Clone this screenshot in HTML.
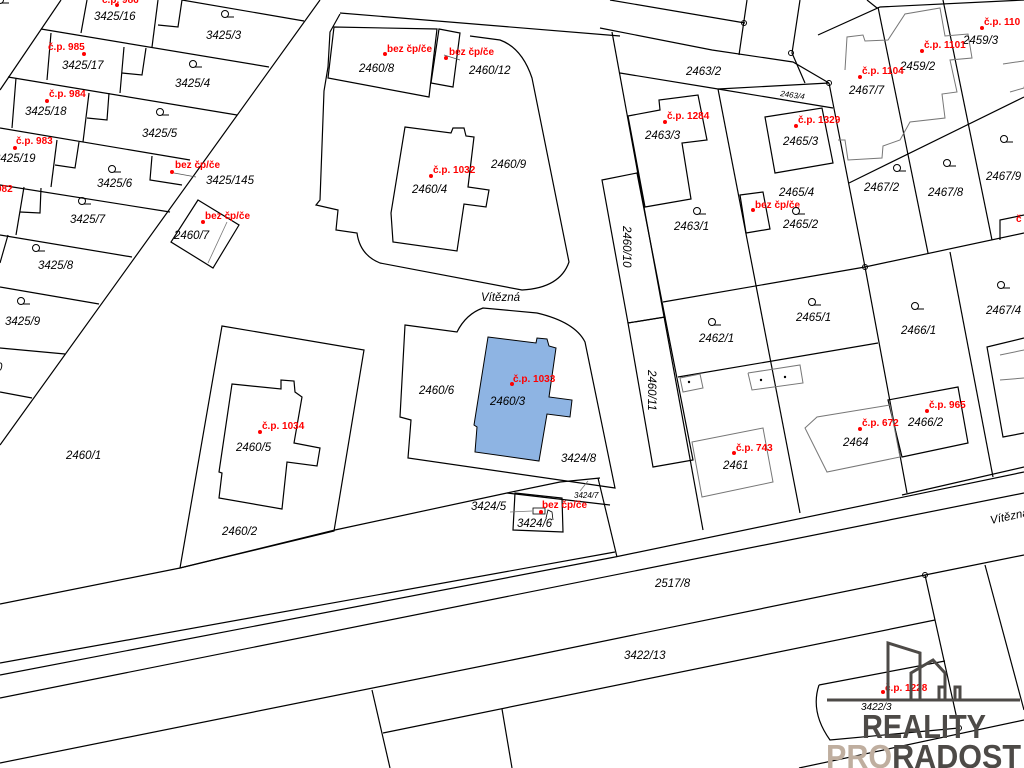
<!DOCTYPE html>
<html><head><meta charset="utf-8"><style>
html,body{margin:0;padding:0;background:#fff;}
svg{display:block;}
.l{fill:none;stroke:#000;stroke-width:1.2;}
.g{fill:none;stroke:#777;stroke-width:1;}
.t{font-family:"Liberation Sans",sans-serif;font-size:11.5px;font-style:italic;fill:#000;}
.s{font-family:"Liberation Sans",sans-serif;font-size:8px;font-style:italic;fill:#000;}
.r{font-family:"Liberation Sans",sans-serif;font-size:10px;font-weight:bold;fill:#f00;}
.d{fill:#f00;}
</style></head><body>
<svg width="1024" height="768" viewBox="0 0 1024 768" xmlns="http://www.w3.org/2000/svg">
<rect width="1024" height="768" fill="#fff"/>
<!-- left block -->
<g class="l">
<polyline points="320,0 0,445"/>
<polyline points="61,0 0,90"/>
<polyline points="182,0 304,21"/>
<polyline points="41,29 269,67"/>
<polyline points="8,77 237,115"/>
<polyline points="0,128 190,160"/>
<polyline points="0,185 170,212"/>
<polyline points="0,235 132,257"/>
<polyline points="0,287 99,304"/>
<polyline points="0,348 65,354"/>
<polyline points="0,392 32,398"/>
<polyline points="87,0 81,33"/><polyline points="158,0 152,47"/>
<polyline points="51,33 47,80"/><polyline points="124,47 120,93"/>
<polyline points="16,78 12,128"/><polyline points="89,93 83,142"/>
<polyline points="57,140 51,187"/><polyline points="24,187 16,235"/>
<polyline points="8,235 0,263"/>
<polyline points="182,0 178,27 158,25"/>
<polyline points="146,48 142,75 122,73"/>
<polyline points="109,93 107,120 87,118"/>
<polyline points="79,142 75,168 55,165"/>
<polyline points="41,188 40,213 20,212"/>
<polyline points="152,156 150,180 182,185"/>
<polygon points="198,200 239,225 213,268 171,242"/>
</g>
<line x1="227" y1="222" x2="208" y2="263" stroke="#777" stroke-width="0.8"/>
<!-- 2460/9 area -->
<g class="l">
<polyline points="340,13 620,36"/>
<path d="M340,14 L330,32 L328,67 L324,91 L320,200 L316,205 L338,210 L336,230 L357,233 Q360,255 380,263 L522,290 Q560,288 569,262 L532,78 Q522,48 500,40 L470,36"/>
<polygon points="334,27 437,29 429,97 328,78"/>
<polygon points="439,29 460,33 453,87 431,83"/>
<polygon points="405,127 451,133 453,128 464,128 466,136 474,137 468,187 489,190 486,207 464,204 457,251 393,242 391,213 405,127"/>
</g>
<!-- upper right -->
<g class="l">
<polyline points="610,0 745,23"/>
<polyline points="747,0 739,55"/>
<polyline points="800,0 792,53 805,83"/>
<polyline points="867,0 877,8"/>
<polyline points="600,28 712,50 793,62 829,83"/>
<polyline points="620,73 718,89 833,108"/>
<polyline points="718,89 829,83"/>
<polyline points="818,35 880,7 1024,0"/>
<polyline points="612,32 703,530"/>
<polygon points="602,180 637,173 665,317 628,323"/>
<polygon points="628,323 665,317 693,460 653,467"/>
<polyline points="718,89 800,513"/>
<polyline points="829,83 865,267 907,493"/>
<polyline points="878,7 928,253"/>
<polyline points="943,0 992,240"/>
<polyline points="849,183 1024,97"/>
<polyline points="663,302 865,267 1024,233"/>
<polyline points="678,377 878,343"/>
<polyline points="950,252 993,477"/>
<polygon points="888,400 958,387 968,443 902,457"/>
<polyline points="902,495 1024,467"/>
<polygon points="765,117 822,108 833,163 775,173"/>
<polygon points="628,116 660,110 659,100 698,95 707,140 682,143 691,199 645,207"/>
<polygon points="740,195 763,192 770,229 746,233"/>
<polyline points="1000,240 1000,220 1024,215"/>
<polyline points="1024,338 987,347 1003,437 1024,433"/>
</g>
<g class="g">
<polygon points="692,442 763,428 773,482 702,497"/>
<polygon points="805,428 817,417 890,405 900,457 827,472"/>
<polyline points="845,70 847,37 863,35 865,41 888,40 905,14 940,8 945,36 968,34 972,58 950,60 957,92 942,94 945,118 910,122 900,140 883,146 882,158 848,160 845,140 838,140"/>
<polyline points="1003,64 1030,60 1024,88 1010,92"/>
<polyline points="680,378 700,374 703,388 683,392 680,378"/>
<polyline points="748,373 800,365 803,383 752,390 748,373"/>
<polyline points="1000,380 1024,378"/>
<polyline points="1000,355 1024,350"/>
</g>
<circle cx="744" cy="23" r="2.5" fill="none" stroke="#000"/>
<circle cx="791" cy="53" r="2.5" fill="none" stroke="#000"/>
<circle cx="829" cy="83" r="2.5" fill="none" stroke="#000"/>
<circle cx="865" cy="267" r="2.5" fill="none" stroke="#000"/>
<circle cx="689" cy="382" r="1.2"/><circle cx="761" cy="380" r="1.2"/><circle cx="785" cy="377" r="1.2"/>
<!-- center lower -->
<g class="l">
<path d="M405,325 L457,332 Q466,314 483,308 L537,313 Q575,322 585,342 L615,488 L408,458 L411,420 L400,417 Z"/>
<polygon points="222,326 364,350 334,531 180,568"/>
<polygon points="232,384 281,389 281,380 294,381 295,392 302,397 294,443 320,448 317,466 287,462 282,509 219,498 222,473 219,472" fill="#fff"/>
<polygon points="515,493 562,498 563,532 513,530"/>
<polyline points="0,604 180,568 335,530 507,493 560,482 600,478"/>
<polyline points="507,493 610,505"/>
<polyline points="598,478 617,557"/>
</g>
<polygon points="488,337 536,343 537,338 547,339 549,346 556,348 549,397 572,400 570,417 547,414 539,461 475,452 477,427 474,425" fill="#8eb4e3" stroke="#000" stroke-width="1"/>
<rect x="533" y="508" width="12" height="6" fill="none" stroke="#000" stroke-width="0.8"/>
<polyline points="546,518 548,510 552,512 553,520" fill="none" stroke="#000" stroke-width="0.8"/>
<line x1="510" y1="512" x2="532" y2="511" stroke="#777" stroke-width="0.8"/>
<line x1="588" y1="481" x2="580" y2="491" stroke="#777" stroke-width="0.8"/>
<line x1="444" y1="55" x2="460" y2="60" stroke="#555" stroke-width="0.8"/>
<line x1="174" y1="173" x2="196" y2="177" stroke="#555" stroke-width="0.8"/>
<!-- roads -->
<g class="l">
<polyline points="0,663 615,552"/>
<polyline points="0,675 615,557 1024,472"/>
<polyline points="0,698 1024,493"/>
<polyline points="0,763 512,660 925,575 1024,555"/>
<polyline points="383,733 935,620"/>
<polyline points="372,690 390,768"/>
<polyline points="502,709 512,768"/>
<polyline points="925,575 959,728"/>
<path d="M819,685 L945,661 M819,685 Q810,712 830,740 L959,728"/>
<polyline points="799,768 1024,720"/>
<polyline points="985,565 1024,710"/>
</g>
<circle cx="925" cy="575" r="2.5" fill="none" stroke="#000"/>
<circle cx="959" cy="728" r="2.5" fill="none" stroke="#000"/>
<!-- labels -->
<g class="t">
<text x="94" y="20">3425/16</text><text x="206" y="39">3425/3</text>
<text x="62" y="69">3425/17</text><text x="175" y="87">3425/4</text>
<text x="25" y="115">3425/18</text><text x="142" y="137">3425/5</text>
<text x="-6" y="162">3425/19</text><text x="97" y="187">3425/6</text><text x="206" y="184">3425/145</text>
<text x="70" y="223">3425/7</text><text x="174" y="239">2460/7</text>
<text x="38" y="269">3425/8</text><text x="5" y="325">3425/9</text><text x="-4" y="371">0</text>
<text x="359" y="72">2460/8</text><text x="469" y="74">2460/12</text>
<text x="491" y="168">2460/9</text><text x="412" y="193">2460/4</text>
<text x="481" y="301">Vítězná</text>
<text x="419" y="394">2460/6</text><text x="490" y="405">2460/3</text>
<text x="66" y="459">2460/1</text><text x="236" y="451">2460/5</text>
<text x="561" y="462">3424/8</text><text x="471" y="510">3424/5</text><text x="517" y="527">3424/6</text>
<text x="222" y="535">2460/2</text>
<text x="686" y="75">2463/2</text><text x="645" y="139">2463/3</text><text x="783" y="145">2465/3</text>
<text x="849" y="94">2467/7</text><text x="900" y="70">2459/2</text><text x="963" y="44">2459/3</text>
<text x="779" y="196">2465/4</text><text x="783" y="228">2465/2</text>
<text x="674" y="230">2463/1</text><text x="864" y="191">2467/2</text><text x="928" y="196">2467/8</text>
<text x="986" y="180">2467/9</text><text x="796" y="321">2465/1</text><text x="699" y="342">2462/1</text>
<text x="901" y="334">2466/1</text><text x="986" y="314">2467/4</text>
<text x="723" y="469">2461</text><text x="843" y="446">2464</text><text x="908" y="426">2466/2</text>
<text x="655" y="587">2517/8</text><text x="991" y="524" transform="rotate(-12 991 524)">Vítězná</text>
<text x="624" y="659">3422/13</text><text x="861" y="710" style="font-size:10px">3422/3</text>
</g>
<text class="t" transform="translate(623,226) rotate(90)">2460/10</text>
<text class="t" transform="translate(648,370) rotate(90)">2460/11</text>
<text class="s" x="780" y="96" transform="rotate(8 780 96)">2463/4</text>
<text class="s" x="574" y="498">3424/7</text>
<g class="r">
<text x="102" y="3">č.p. 986</text><text x="48" y="50">č.p. 985</text>
<text x="49" y="97">č.p. 984</text><text x="16" y="144">č.p. 983</text><text x="-4" y="192">982</text>
<text x="175" y="168">bez čp/če</text><text x="205" y="219">bez čp/če</text>
<text x="387" y="52">bez čp/če</text><text x="449" y="55">bez čp/če</text>
<text x="433" y="173">č.p. 1032</text><text x="513" y="382">č.p. 1033</text>
<text x="262" y="429">č.p. 1034</text><text x="542" y="508">bez čp/če</text>
<text x="667" y="119">č.p. 1284</text><text x="798" y="123">č.p. 1329</text>
<text x="862" y="74">č.p. 1104</text><text x="924" y="48">č.p. 1101</text><text x="984" y="25">č.p. 110</text>
<text x="755" y="208">bez čp/če</text><text x="736" y="451">č.p. 743</text>
<text x="862" y="426">č.p. 672</text><text x="929" y="408">č.p. 965</text>
<text x="885" y="691">č.p. 1228</text><text x="1016" y="222">č</text>
</g>
<g class="d">
<circle cx="117" cy="5" r="2"/><circle cx="84" cy="54" r="2"/><circle cx="47" cy="101" r="2"/>
<circle cx="15" cy="148" r="2"/><circle cx="172" cy="172" r="2"/><circle cx="203" cy="222" r="2"/>
<circle cx="385" cy="54" r="2"/><circle cx="446" cy="58" r="2"/><circle cx="431" cy="176" r="2"/>
<circle cx="512" cy="384" r="2"/><circle cx="260" cy="432" r="2"/><circle cx="541" cy="512" r="2"/>
<circle cx="665" cy="122" r="2"/><circle cx="796" cy="126" r="2"/><circle cx="860" cy="77" r="2"/>
<circle cx="922" cy="51" r="2"/><circle cx="982" cy="28" r="2"/><circle cx="753" cy="210" r="2"/>
<circle cx="734" cy="453" r="2"/><circle cx="860" cy="429" r="2"/><circle cx="927" cy="411" r="2"/>
<circle cx="883" cy="692" r="2"/>
</g>
<!-- parcel symbols -->
<g fill="none" stroke="#000" stroke-width="1">
<g id="q"><circle cx="0" cy="0" r="3.5"/><line x1="2" y1="3" x2="9" y2="3"/></g>
</g>
<g fill="none" stroke="#000" stroke-width="1">
<circle cx="225" cy="14" r="3.5"/><line x1="227" y1="17" x2="234" y2="17"/>
<circle cx="193" cy="64" r="3.5"/><line x1="195" y1="67" x2="202" y2="67"/>
<circle cx="160" cy="112" r="3.5"/><line x1="162" y1="115" x2="169" y2="115"/>
<circle cx="112" cy="169" r="3.5"/><line x1="114" y1="172" x2="121" y2="172"/>
<circle cx="82" cy="201" r="3.5"/><line x1="84" y1="204" x2="91" y2="204"/>
<circle cx="36" cy="248" r="3.5"/><line x1="38" y1="251" x2="45" y2="251"/>
<circle cx="21" cy="301" r="3.5"/><line x1="23" y1="304" x2="30" y2="304"/>
<circle cx="697" cy="211" r="3.5"/><line x1="699" y1="214" x2="706" y2="214"/>
<circle cx="796" cy="211" r="3.5"/><line x1="798" y1="214" x2="805" y2="214"/>
<circle cx="897" cy="168" r="3.5"/><line x1="899" y1="171" x2="906" y2="171"/>
<circle cx="947" cy="163" r="3.5"/><line x1="949" y1="166" x2="956" y2="166"/>
<circle cx="1004" cy="139" r="3.5"/><line x1="1006" y1="142" x2="1013" y2="142"/>
<circle cx="812" cy="302" r="3.5"/><line x1="814" y1="305" x2="821" y2="305"/>
<circle cx="712" cy="322" r="3.5"/><line x1="714" y1="325" x2="721" y2="325"/>
<circle cx="915" cy="306" r="3.5"/><line x1="917" y1="309" x2="924" y2="309"/>
<circle cx="1001" cy="285" r="3.5"/><line x1="1003" y1="288" x2="1010" y2="288"/>
</g>
<!-- logo -->
<g fill="none" stroke="#4d4a47" stroke-width="3">
<line x1="827" y1="700" x2="1020" y2="700"/>
<polyline points="888,700 888,643 920,653 920,700"/>
<polyline points="911,700 911,673 933,660 945,673 945,700"/>
<polyline points="939,700 939,687 945,687"/>
<polyline points="955,700 955,687 960,687 960,700"/>
</g>
<text x="862" y="738" textLength="124" lengthAdjust="spacingAndGlyphs" style="font-family:'Liberation Sans',sans-serif;font-weight:bold;font-size:33px;fill:#4d4a47">REALITY</text>
<text x="826" y="768" textLength="195" lengthAdjust="spacingAndGlyphs" style="font-family:'Liberation Sans',sans-serif;font-weight:bold;font-size:33px;fill:#4d4a47"><tspan fill="#bfae9f">PRO</tspan>RADOST</text>
</svg>
</body></html>
